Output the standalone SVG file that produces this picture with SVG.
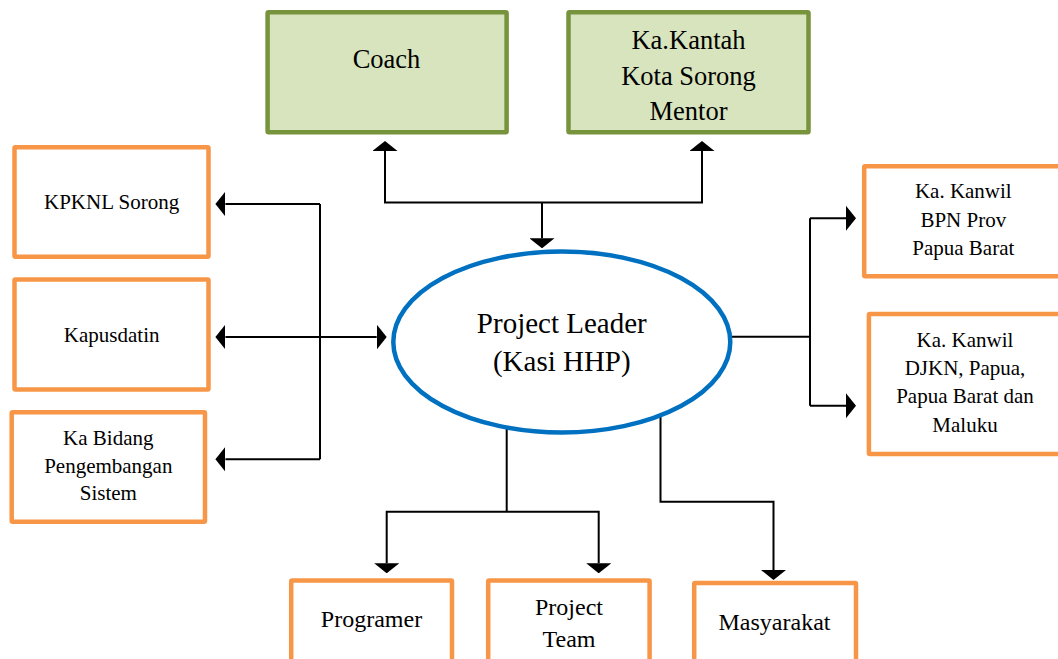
<svg xmlns="http://www.w3.org/2000/svg" width="1058" height="659" viewBox="0 0 1058 659">
<style>
.box{fill:#ffffff;stroke:#f79646;stroke-width:4.5}
.gbox{fill:#d7e4bd;stroke:#77933c;stroke-width:4.5}
.ell{fill:#ffffff;stroke:#0070c0;stroke-width:4.5}
.t{font-family:"Liberation Serif","Times New Roman",serif;fill:#000000;text-anchor:middle}
.s21{font-size:21px}
.s24{font-size:24px}
.s26{font-size:26.5px}
.s29{font-size:29px}
.c{fill:none;stroke:#000000;stroke-width:2}
.a{marker-end:url(#ah)}
.aa{marker-start:url(#ah);marker-end:url(#ah)}
</style>
<defs>
<marker id="ah" viewBox="0 0 10 25" refX="0" refY="12.5" markerWidth="10" markerHeight="25" markerUnits="userSpaceOnUse" orient="auto-start-reverse">
<path d="M0,0 L10,12.5 L0,25 Z" fill="#000000"/>
</marker>
</defs>
<rect width="1058" height="659" fill="#ffffff"/>
<g id="connectors">
<path class="c aa" d="M385,151 V202.5 H702 V151"/>
<path class="c a" d="M542,202.5 V238.3"/>
<path class="c" d="M320,204 V459.3"/>
<path class="c a" d="M320,204 H225.4"/>
<path class="c a" d="M320,459.3 H225.4"/>
<path class="c aa" d="M225.4,337 H376.7"/>
<path class="c" d="M730,336.7 H810"/>
<path class="c" d="M810,218.3 V405.7"/>
<path class="c a" d="M810,218.3 H846"/>
<path class="c a" d="M810,405.7 H846"/>
<path class="c" d="M506.7,429 V511.7"/>
<path class="c aa" d="M386.7,563.3 V511.7 H598.7 V563.3"/>
<path class="c a" d="M660.5,416 V501.7 H773.5 V570"/>
</g>
<g id="coach">
<rect class="gbox" x="267.6" y="12.2" width="239" height="120" rx="1"/>
<text class="t s26" x="386.5" y="68">Coach</text>
</g>
<g id="mentor">
<rect class="gbox" x="568.5" y="12.2" width="240" height="120" rx="1"/>
<text class="t s26" x="688.5" y="49">Ka.Kantah</text>
<text class="t s26" x="688.5" y="84.5">Kota Sorong</text>
<text class="t s26" x="688.5" y="120">Mentor</text>
</g>
<g id="project-leader">
<ellipse class="ell" cx="561.8" cy="342" rx="168.5" ry="90.5"/>
<text class="t s29" x="561.8" y="332.7">Project Leader</text>
<text class="t s29" x="561.8" y="370.5">(Kasi HHP)</text>
</g>
<g id="kpknl">
<rect class="box" x="14.5" y="147.2" width="194" height="109.6" rx="1"/>
<text class="t s21" x="111.6" y="209">KPKNL Sorong</text>
</g>
<g id="kapusdatin">
<rect class="box" x="14.5" y="279.5" width="194" height="110" rx="1"/>
<text class="t s21" x="111.7" y="341.7">Kapusdatin</text>
</g>
<g id="ka-bidang">
<rect class="box" x="11.7" y="412.2" width="193.3" height="109.6" rx="1"/>
<text class="t s21" x="108.3" y="445">Ka Bidang</text>
<text class="t s21" x="108.3" y="472.7">Pengembangan</text>
<text class="t s21" x="108.3" y="500">Sistem</text>
</g>
<g id="kanwil-bpn">
<rect class="box" x="864.2" y="166.2" width="200" height="110" rx="1"/>
<text class="t s21" x="963.3" y="198.3">Ka. Kanwil</text>
<text class="t s21" x="963.3" y="226.7">BPN Prov</text>
<text class="t s21" x="963.3" y="255">Papua Barat</text>
</g>
<g id="kanwil-djkn">
<rect class="box" x="868.9" y="313.9" width="200" height="140" rx="1"/>
<text class="t s21" x="965" y="346.7">Ka. Kanwil</text>
<text class="t s21" x="965" y="375">DJKN, Papua,</text>
<text class="t s21" x="965" y="403.3">Papua Barat dan</text>
<text class="t s21" x="965" y="431.7">Maluku</text>
</g>
<g id="programer">
<rect class="box" x="291.2" y="580.5" width="160.8" height="100" rx="1"/>
<text class="t s24" x="371.5" y="627">Programer</text>
</g>
<g id="project-team">
<rect class="box" x="488.2" y="580.5" width="161.4" height="100" rx="1"/>
<text class="t s24" x="569" y="615">Project</text>
<text class="t s24" x="569" y="646.5">Team</text>
</g>
<g id="masyarakat">
<rect class="box" x="694.2" y="582.9" width="161.8" height="100" rx="1"/>
<text class="t s24" x="774.5" y="630">Masyarakat</text>
</g>
</svg>
